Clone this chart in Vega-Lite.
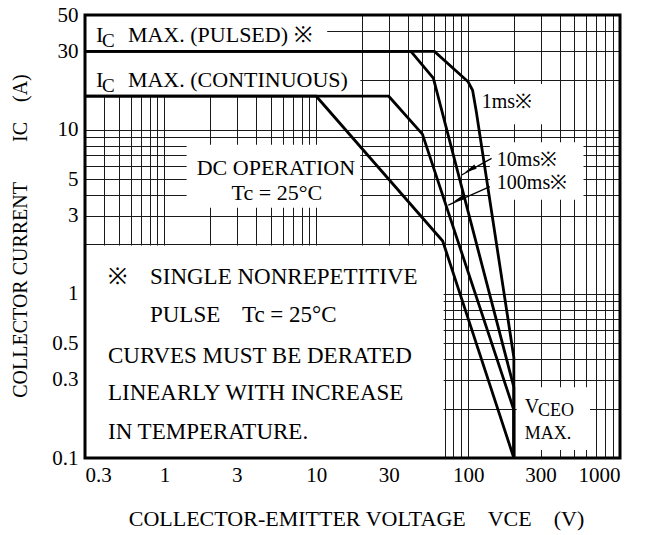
{
  "$schema": "https://vega.github.io/schema/vega-lite/v6.json",
  "width": 535,
  "height": 443,
  "autosize": {"type": "none"},
  "padding": {"left": 85, "top": 15, "right": 41, "bottom": 77},
  "background": "white",
  "config": {"view": {"stroke": null}, "font": "Liberation Serif"},
  "datasets": {
    "boxes": [
      {"name": "pulsed", "v": 0.3, "v2": 11.8, "i": 30, "i2": 50},
      {"name": "continuous", "v": 0.3, "v2": 19.5, "i": 16, "i2": 30},
      {"name": "dc", "v": 1.4, "v2": 19.5, "i": 3.35, "i2": 8.1},
      {"name": "1ms", "v": 118, "v2": 330, "i": 10.8, "i2": 19},
      {"name": "10ms100ms", "v": 139, "v2": 575, "i": 3.75, "i2": 8.4},
      {"name": "vceo", "v": 209, "v2": 634, "i": 0.112, "i2": 0.27},
      {"name": "note", "v": 0.3, "v2": 69, "i": 0.1, "i2": 1.97}
    ],
    "curves": [
      {"series": "DC", "o": 0, "v": 0.3, "i": 16},
      {"series": "DC", "o": 1, "v": 10, "i": 16},
      {"series": "DC", "o": 2, "v": 68, "i": 2.1},
      {"series": "DC", "o": 3, "v": 200, "i": 0.1},
      {"series": "100ms", "o": 0, "v": 0.3, "i": 16},
      {"series": "100ms", "o": 1, "v": 30, "i": 16},
      {"series": "100ms", "o": 2, "v": 50, "i": 9.4},
      {"series": "100ms", "o": 3, "v": 200, "i": 0.196},
      {"series": "100ms", "o": 4, "v": 200, "i": 0.1},
      {"series": "10ms", "o": 0, "v": 0.3, "i": 30},
      {"series": "10ms", "o": 1, "v": 42, "i": 30},
      {"series": "10ms", "o": 2, "v": 59, "i": 20.6},
      {"series": "10ms", "o": 3, "v": 200, "i": 0.27},
      {"series": "10ms", "o": 4, "v": 200, "i": 0.1},
      {"series": "1ms", "o": 0, "v": 0.3, "i": 30},
      {"series": "1ms", "o": 1, "v": 60, "i": 30},
      {"series": "1ms", "o": 2, "v": 100, "i": 19.6},
      {"series": "1ms", "o": 3, "v": 107, "i": 17.4},
      {"series": "1ms", "o": 4, "v": 113, "i": 13},
      {"series": "1ms", "o": 5, "v": 200, "i": 0.41},
      {"series": "1ms", "o": 6, "v": 200, "i": 0.1}
    ],
    "leaders": [
      {"arrow": "a10", "o": 0, "v": 142.7, "i": 6.69},
      {"arrow": "a10", "o": 1, "v": 90.6, "i": 5.3},
      {"arrow": "a100", "o": 0, "v": 139, "i": 4.5},
      {"arrow": "a100", "o": 1, "v": 74, "i": 3.47}
    ],
    "heads": [
      {"arrow": "a10", "v": 103, "i": 5.72},
      {"arrow": "a100", "v": 86.5, "i": 3.76}
    ],
    "texts": [
      {"g": "big", "t": "I", "v": 0.354, "i": 37.8},
      {"g": "big", "t": "MAX. (PULSED) ※", "v": 0.575, "i": 37.8},
      {"g": "big", "t": "I", "v": 0.354, "i": 20.1},
      {"g": "big", "t": "MAX. (CONTINUOUS)", "v": 0.575, "i": 20.1},
      {"g": "body", "t": "※", "v": 0.425, "i": 1.266},
      {"g": "body", "t": "SINGLE NONREPETITIVE", "v": 0.803, "i": 1.266},
      {"g": "body", "t": "PULSE", "v": 0.803, "i": 0.743},
      {"g": "body", "t": "Tc = 25°C", "v": 3.24, "i": 0.743},
      {"g": "body", "t": "CURVES MUST BE DERATED", "v": 0.425, "i": 0.418},
      {"g": "body", "t": "LINEARLY WITH INCREASE", "v": 0.425, "i": 0.249},
      {"g": "body", "t": "IN TEMPERATURE.", "v": 0.425, "i": 0.144},
      {"g": "sub", "t": "C", "v": 0.388, "i": 34.7},
      {"g": "sub", "t": "C", "v": 0.388, "i": 18.4},
      {"g": "center", "t": "DC OPERATION", "v": 5.42, "i": 5.84},
      {"g": "center", "t": "Tc = 25°C", "v": 5.5, "i": 4.1},
      {"g": "label", "t": "1ms※", "v": 123, "i": 14.7},
      {"g": "label", "t": "10ms※", "v": 154.6, "i": 6.54},
      {"g": "label", "t": "100ms※", "v": 154.6, "i": 4.73},
      {"g": "label", "t": "V", "v": 236, "i": 0.205},
      {"g": "vceo", "t": "CEO", "v": 288, "i": 0.194},
      {"g": "vceo", "t": "MAX.", "v": 236, "i": 0.141}
    ],
    "frame": [{"v": 0.3, "v2": 1000, "i": 0.1, "i2": 50}]
  },
  "layer": [
    {
      "data": {"name": "boxes"},
      "mark": {"type": "rect", "fill": "white", "strokeWidth": 0},
      "encoding": {
        "x": {
          "field": "v", "type": "quantitative",
          "scale": {"type": "log", "domain": [0.3, 1000], "nice": false},
          "axis": {
            "values": [0.3,0.4,0.5,0.6,0.7,0.8,0.9,1,2,3,4,5,6,7,8,9,10,20,30,40,50,60,70,80,90,100,200,300,400,500,600,700,800,900,1000],
            "grid": true, "gridColor": "#1a1a1a", "gridWidth": 1,
            "domain": false, "ticks": false,
            "labelExpr": "datum.value == 0.3 || datum.value == 1 || datum.value == 3 || datum.value == 10 || datum.value == 30 || datum.value == 100 || datum.value == 300 || datum.value == 1000 ? '' + datum.value : ''",
            "labelOverlap": false, "labelFontSize": 21, "labelColor": "black", "labelPadding": 6,
            "title": "COLLECTOR-EMITTER VOLTAGE\u00a0\u00a0\u00a0\u00a0VCE\u00a0\u00a0\u00a0\u00a0(V)",
            "titleFontSize": 22, "titleFontWeight": "normal", "titleColor": "black",
            "titleX": 271, "titleY": 60, "titleBaseline": "middle", "titleAlign": "center"
          }
        },
        "x2": {"field": "v2"},
        "y": {
          "field": "i", "type": "quantitative",
          "scale": {"type": "log", "domain": [0.1, 50], "nice": false},
          "axis": {
            "values": [0.1,0.2,0.3,0.4,0.5,0.6,0.7,0.8,0.9,1,2,3,4,5,6,7,8,9,10,20,30,40,50],
            "grid": true, "gridColor": "#1a1a1a", "gridWidth": 1,
            "domain": false, "ticks": false,
            "labelExpr": "datum.value == 0.1 || datum.value == 0.3 || datum.value == 0.5 || datum.value == 1 || datum.value == 3 || datum.value == 5 || datum.value == 10 || datum.value == 30 || datum.value == 50 ? '' + datum.value : ''",
            "labelOverlap": false, "labelFontSize": 21, "labelColor": "black", "labelPadding": 7,
            "title": "COLLECTOR CURRENT\u00a0\u00a0\u00a0\u00a0\u00a0\u00a0\u00a0\u00a0IC\u00a0\u00a0\u00a0\u00a0(A)",
            "titleFontSize": 20, "titleFontWeight": "normal", "titleColor": "black",
            "titleX": -65, "titleY": 220.5, "titleAngle": 270, "titleBaseline": "middle", "titleAlign": "center"
          }
        },
        "y2": {"field": "i2"}
      }
    },
    {
      "data": {"name": "curves"},
      "mark": {"type": "line", "color": "black", "strokeWidth": 2.8},
      "encoding": {
        "x": {"field": "v", "type": "quantitative"},
        "y": {"field": "i", "type": "quantitative"},
        "detail": {"field": "series"},
        "order": {"field": "o"}
      }
    },
    {
      "data": {"name": "leaders"},
      "mark": {"type": "line", "color": "black", "strokeWidth": 1.3},
      "encoding": {
        "x": {"field": "v", "type": "quantitative"},
        "y": {"field": "i", "type": "quantitative"},
        "detail": {"field": "arrow"},
        "order": {"field": "o"}
      }
    },
    {
      "data": {"name": "heads"},
      "transform": [{"filter": "datum.arrow == 'a10'"}],
      "mark": {"type": "point", "shape": "M0,-1L0.4,1L-0.4,1Z", "filled": true, "fill": "black", "strokeWidth": 0, "size": 150, "angle": 241, "opacity": 1},
      "encoding": {
        "x": {"field": "v", "type": "quantitative"},
        "y": {"field": "i", "type": "quantitative"}
      }
    },
    {
      "data": {"name": "heads"},
      "transform": [{"filter": "datum.arrow == 'a100'"}],
      "mark": {"type": "point", "shape": "M0,-1L0.4,1L-0.4,1Z", "filled": true, "fill": "black", "strokeWidth": 0, "size": 150, "angle": 246, "opacity": 1},
      "encoding": {
        "x": {"field": "v", "type": "quantitative"},
        "y": {"field": "i", "type": "quantitative"}
      }
    },
    {
      "data": {"name": "texts"},
      "transform": [{"filter": "datum.g == 'big'"}],
      "mark": {"type": "text", "align": "left", "baseline": "middle", "fontSize": 22, "color": "black"},
      "encoding": {
        "x": {"field": "v", "type": "quantitative"},
        "y": {"field": "i", "type": "quantitative"},
        "text": {"field": "t"}
      }
    },
    {
      "data": {"name": "texts"},
      "transform": [{"filter": "datum.g == 'body'"}],
      "mark": {"type": "text", "align": "left", "baseline": "middle", "fontSize": 23, "color": "black"},
      "encoding": {
        "x": {"field": "v", "type": "quantitative"},
        "y": {"field": "i", "type": "quantitative"},
        "text": {"field": "t"}
      }
    },
    {
      "data": {"name": "texts"},
      "transform": [{"filter": "datum.g == 'sub'"}],
      "mark": {"type": "text", "align": "left", "baseline": "middle", "fontSize": 19, "color": "black"},
      "encoding": {
        "x": {"field": "v", "type": "quantitative"},
        "y": {"field": "i", "type": "quantitative"},
        "text": {"field": "t"}
      }
    },
    {
      "data": {"name": "texts"},
      "transform": [{"filter": "datum.g == 'center'"}],
      "mark": {"type": "text", "align": "center", "baseline": "middle", "fontSize": 22, "color": "black"},
      "encoding": {
        "x": {"field": "v", "type": "quantitative"},
        "y": {"field": "i", "type": "quantitative"},
        "text": {"field": "t"}
      }
    },
    {
      "data": {"name": "texts"},
      "transform": [{"filter": "datum.g == 'label'"}],
      "mark": {"type": "text", "align": "left", "baseline": "middle", "fontSize": 20, "color": "black"},
      "encoding": {
        "x": {"field": "v", "type": "quantitative"},
        "y": {"field": "i", "type": "quantitative"},
        "text": {"field": "t"}
      }
    },
    {
      "data": {"name": "texts"},
      "transform": [{"filter": "datum.g == 'vceo'"}],
      "mark": {"type": "text", "align": "left", "baseline": "middle", "fontSize": 18, "color": "black"},
      "encoding": {
        "x": {"field": "v", "type": "quantitative"},
        "y": {"field": "i", "type": "quantitative"},
        "text": {"field": "t"}
      }
    },
    {
      "data": {"name": "frame"},
      "mark": {"type": "rect", "filled": false, "stroke": "black", "strokeWidth": 3},
      "encoding": {
        "x": {"field": "v", "type": "quantitative"},
        "x2": {"field": "v2"},
        "y": {"field": "i", "type": "quantitative"},
        "y2": {"field": "i2"}
      }
    }
  ]
}
